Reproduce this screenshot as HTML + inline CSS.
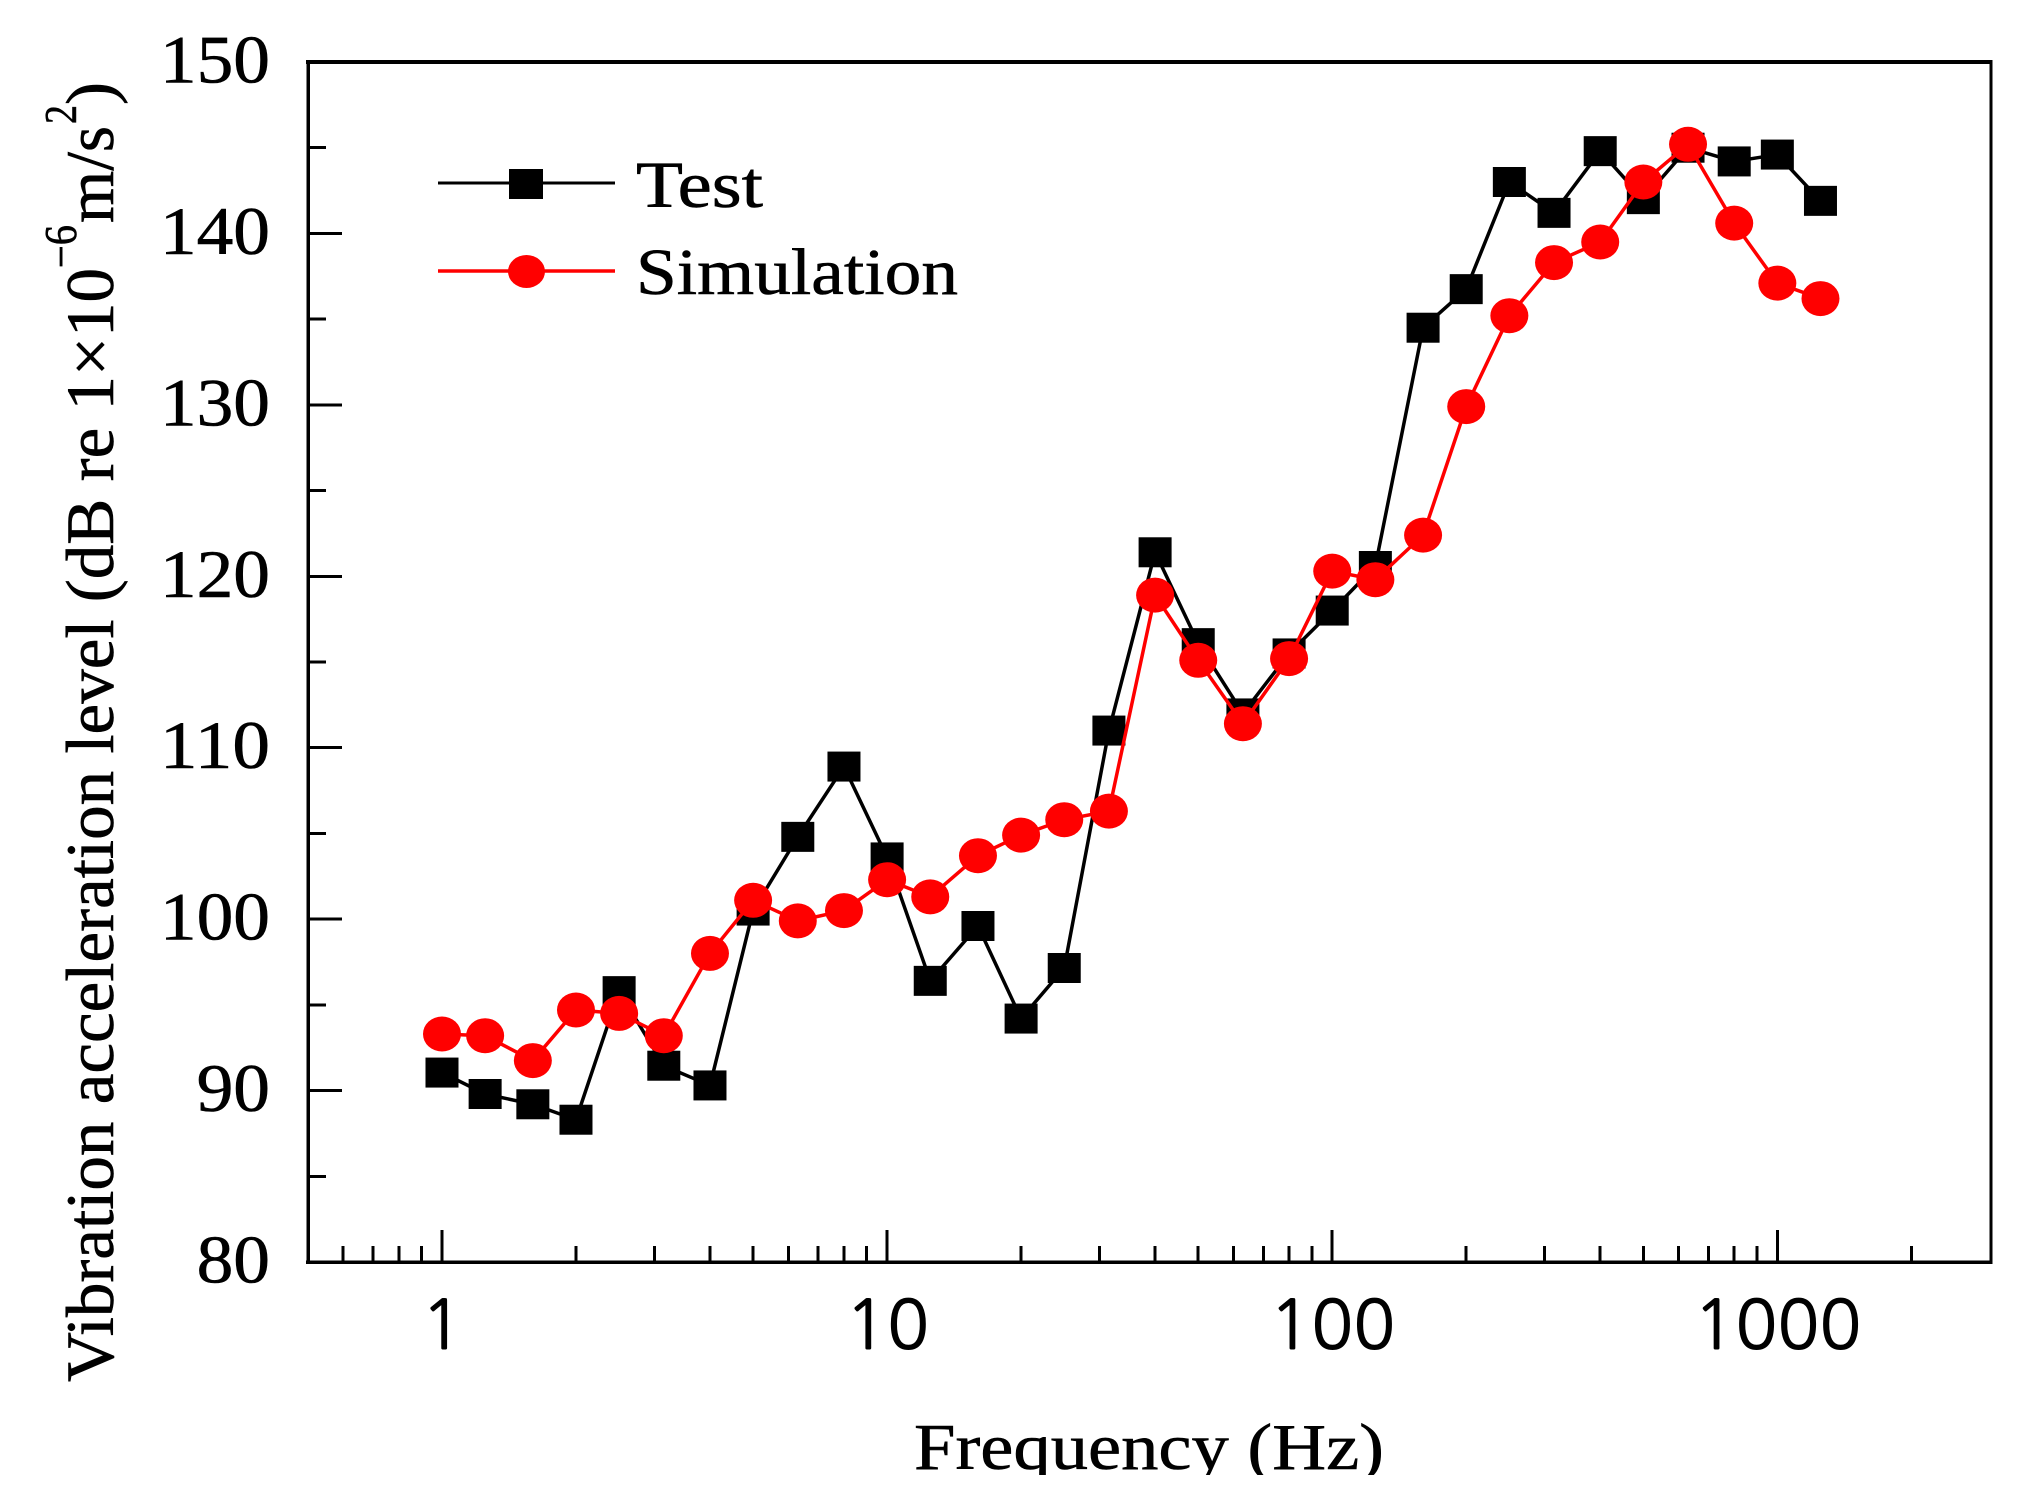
<!DOCTYPE html>
<html lang="en">
<head>
<meta charset="utf-8">
<title>Vibration acceleration level vs frequency</title>
<style>
html,body{margin:0;padding:0;background:#fff;}
svg{display:block;}
text{font-family:"Liberation Serif",serif;fill:#000;stroke:#000;stroke-width:0.6px;}
.sans{font-family:"NanumGothic","Liberation Sans",sans-serif;stroke-width:1px;}
</style>
</head>
<body>
<svg id="chart" xmlns="http://www.w3.org/2000/svg" width="2039" height="1500" viewBox="0 0 2039 1500">
  <rect x="0" y="0" width="2039" height="1500" fill="#fff"/>
  <g id="ticks"></g>
  <g id="series"></g>
  <g stroke="#000" shape-rendering="crispEdges">
    <line x1="308" y1="60" x2="308" y2="1264" stroke-width="3.5"/>
    <line x1="306" y1="62" x2="1992" y2="62" stroke-width="4"/>
    <line x1="1991" y1="60" x2="1991" y2="1264" stroke-width="3"/>
    <line x1="306" y1="1262" x2="1992" y2="1262" stroke-width="3.5"/>
  </g>
  <g id="labels"></g>

  <g>
    <line x1="438" y1="183" x2="615" y2="183" stroke="#000" stroke-width="3"/>
    <rect x="509" y="169" width="34" height="30" fill="#000"/>
    <text x="636" y="207" font-size="66" textLength="127" lengthAdjust="spacingAndGlyphs">Test</text>
    <line x1="438" y1="271" x2="615" y2="271" stroke="#f00" stroke-width="3.5"/>
    <ellipse cx="526.5" cy="271.5" rx="18.5" ry="16.5" fill="#f00"/>
    <text x="636" y="294" font-size="66" textLength="322" lengthAdjust="spacingAndGlyphs">Simulation</text>
  </g>

  <text x="914" y="1469" font-size="66" textLength="470" lengthAdjust="spacingAndGlyphs">Frequency (Hz)</text>
  <rect x="880" y="1475" width="540" height="25" fill="#fff"/>

  <g>
    <text transform="translate(113 1382) rotate(-90)" font-size="68" textLength="1114" lengthAdjust="spacingAndGlyphs">Vibration acceleration level (dB re 1×10</text>
    <text transform="translate(76 268) rotate(-90)" font-size="45" textLength="43" lengthAdjust="spacingAndGlyphs">−6</text>
    <text transform="translate(113 223) rotate(-90)" font-size="68" textLength="97" lengthAdjust="spacingAndGlyphs">m/s</text>
    <text transform="translate(76 124) rotate(-90)" font-size="45" textLength="19" lengthAdjust="spacingAndGlyphs">2</text>
    <text transform="translate(113 105) rotate(-90)" font-size="68" textLength="23" lengthAdjust="spacingAndGlyphs">)</text>
  </g>
</svg>

<script>
const frequencies = [1,1.25,1.6,2,2.5,3.15,4,5,6.3,8,10,12.5,16,20,25,31.5,40,50,63,80,100,125,160,200,250,315,400,500,630,800,1000,1250];
const testValues = [91.05,89.8,89.2,88.3,95.8,91.45,90.3,100.5,104.8,108.9,103.6,96.4,99.6,94.2,97.15,111,121.4,116.1,112,115.5,118,120.6,134.5,136.75,143,141.2,144.8,142,145,144.2,144.6,141.9];
const simulationValues = [93.3,93.2,91.75,94.7,94.5,93.2,98,101.1,99.9,100.5,102.3,101.3,103.7,104.9,105.8,106.3,118.9,115.1,111.4,115.2,120.3,119.8,122.4,129.9,135.2,138.3,139.5,143,145.2,140.6,137.1,136.2];
const xMajorTicks = [1,10,100,1000];
const xMinorTicks = [0.6,0.7,0.8,0.9,2,3,4,5,6,7,8,9,20,30,40,50,60,70,80,90,200,300,400,500,600,700,800,900,2000];
const yMajorTicks = [90,100,110,120,130,140];
const yMinorTicks = [85,95,105,115,125,135,145];
const xTickLabels = ["1","10","100","1000"];
const yTickLabels = ["80","90","100","110","120","130","140","150"];

const NS = 'http://www.w3.org/2000/svg';
const plot = {left:308,right:1991,top:62,bottom:1262,xMin:0.5,xMax:3020,yMin:80,yMax:150};
function xScale(v){
  return plot.left + (Math.log10(v)-Math.log10(plot.xMin))/(Math.log10(plot.xMax)-Math.log10(plot.xMin))*(plot.right-plot.left);
}
function yScale(v){
  return plot.bottom - (v-plot.yMin)/(plot.yMax-plot.yMin)*(plot.bottom-plot.top);
}
function make(tag,attrs,parent){
  const el = document.createElementNS(NS,tag);
  for(const k in attrs){ el.setAttribute(k,attrs[k]); }
  parent.appendChild(el);
  return el;
}
const tickGroup = document.getElementById('ticks');
const labelGroup = document.getElementById('labels');
const seriesGroup = document.getElementById('series');

xMajorTicks.forEach(function(v){
  const el = make('line',{x1:xScale(v),x2:xScale(v),y1:plot.bottom,y2:plot.bottom-32,stroke:'#000','stroke-width':3,'shape-rendering':'crispEdges'},tickGroup);
  
  
});
xMinorTicks.forEach(function(v){
  const el = make('line',{x1:xScale(v),x2:xScale(v),y1:plot.bottom,y2:plot.bottom-16,stroke:'#000','stroke-width':3,'shape-rendering':'crispEdges'},tickGroup);
  
  
});
yMajorTicks.forEach(function(v){
  const el = make('line',{x1:plot.left,x2:plot.left+34,y1:yScale(v),y2:yScale(v),stroke:'#000','stroke-width':3,'shape-rendering':'crispEdges'},tickGroup);
  
  
});
yMinorTicks.forEach(function(v){
  const el = make('line',{x1:plot.left,x2:plot.left+18,y1:yScale(v),y2:yScale(v),stroke:'#000','stroke-width':3,'shape-rendering':'crispEdges'},tickGroup);
  
  
});

xTickLabels.forEach(function(s){
  const w = s.length*42;
  const el = make('text',{x:xScale(Number(s))-w/2,y:1349,'font-size':68,textLength:w,lengthAdjust:'spacingAndGlyphs','class':'sans'},labelGroup);
  el.textContent = s;
  
  
});
yTickLabels.forEach(function(s){
  const w = s.length*36.7;
  const el = make('text',{x:270-w,y:yScale(Number(s))+20.5,'font-size':68,textLength:w,lengthAdjust:'spacingAndGlyphs'},labelGroup);
  el.textContent = s;
  
  
});

function pointsFor(values){
  return values.map(function(v,i){ return xScale(frequencies[i])+','+yScale(v); }).join(' ');
}
const testLine = make('polyline',{points:pointsFor(testValues),fill:'none',stroke:'#000','stroke-width':3.5,'stroke-linejoin':'round'},seriesGroup);


testValues.forEach(function(v,i){
  const el = make('rect',{x:xScale(frequencies[i])-16.5,y:yScale(v)-15,width:33,height:30,fill:'#000'},seriesGroup);
  
  
});
const simulationLine = make('polyline',{points:pointsFor(simulationValues),fill:'none',stroke:'#f00','stroke-width':3.5,'stroke-linejoin':'round'},seriesGroup);


simulationValues.forEach(function(v,i){
  const el = make('ellipse',{cx:xScale(frequencies[i]),cy:yScale(v),rx:19,ry:17.5,fill:'#f00'},seriesGroup);
  
  
});
</script>
</body>
</html>
